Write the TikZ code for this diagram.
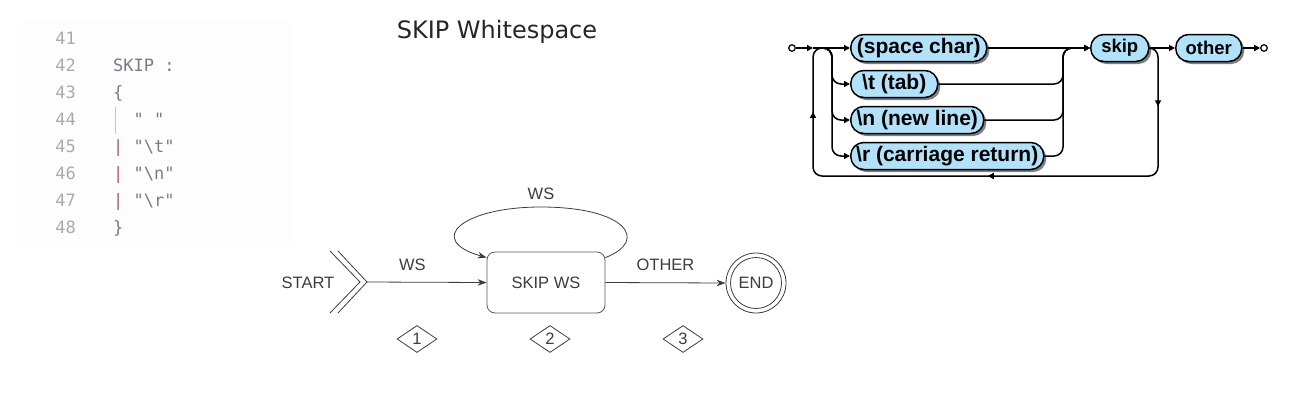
\documentclass[tikz,border=0pt]{standalone}
\usepackage{fontspec}
\setmainfont{Liberation Sans}
\newfontfamily\titlefont{DejaVu Sans}
\newfontfamily\codefont{DejaVu Sans Mono}
\usetikzlibrary{arrows.meta,shapes.geometric,shadows,decorations.markings}
\definecolor{rrblue}{RGB}{178,226,250}
\definecolor{lnum}{RGB}{168,170,180}
\definecolor{codegray}{RGB}{120,124,138}
\definecolor{barred}{RGB}{165,100,95}
\definecolor{fsm}{RGB}{60,60,60}
\definecolor{panel}{RGB}{253,253,253}
\begin{document}
\begin{tikzpicture}[x=1pt,y=-1pt,
  rrbox/.style={draw=black, line width=1.5pt, fill=rrblue, rounded corners=13pt,
    minimum height=27pt, inner sep=0pt, anchor=west,
    font=\fontsize{21}{24}\selectfont\bfseries,
    general shadow={fill=black!50, shadow xshift=2.5pt, shadow yshift=-2.5pt}},
  rrsmall/.style={font=\fontsize{18.5}{22}\selectfont\bfseries},
  rrend/.style={circle, draw=black, line width=1.2pt, fill=white, inner sep=0pt, minimum size=6.5pt},
  rrline/.style={line width=1.5pt, rounded corners=9pt},
  rrarrow/.style={rrline, -{Triangle[length=6pt,width=6pt]}},
  rrmark/.style={postaction={decorate, decoration={markings,
      mark=at position #1 with {\arrow{Triangle[length=6pt,width=6pt]}}}}},
  fsmtext/.style={text=fsm, font=\fontsize{16.5}{19}\selectfont},
  fsmline/.style={draw=fsm, line width=0.8pt},
  fsmarrow/.style={fsmline, -{Stealth[length=9pt,width=6.5pt]}},
  codetext/.style={anchor=base west, inner sep=0pt, text=codegray, font=\codefont\fontsize{17}{20}\selectfont},
  lnumtext/.style={anchor=base east, inner sep=0pt, text=lnum, font=\codefont\fontsize{17}{20}\selectfont},
  badge/.style={diamond, draw=fsm, line width=0.8pt, minimum width=40pt, minimum height=27pt, inner sep=0pt, fsmtext}
]
\useasboundingbox (0,0) rectangle (1300,400);

% ---------- code panel ----------
\fill[panel] (20,22) rectangle (290,245);
\node[lnumtext] (n41) at (76,44) {41};
\node[lnumtext] (n42) at (76,71) {42};
\node[lnumtext] (n43) at (76,98) {43};
\node[lnumtext] (n44) at (76,125) {44};
\node[lnumtext] (n45) at (76,152) {45};
\node[lnumtext] (n46) at (76,179) {46};
\node[lnumtext] (n47) at (76,206) {47};
\node[lnumtext] (n48) at (76,233) {48};
\node[codetext] (c42) at (113,71) {SKIP :};
\node[codetext] (c43) at (113,98) {\{};
\node[codetext] (c44) at (113,125) {\hphantom{||}" "};
\node[codetext] (c45) at (113,152) {{\color{barred}|} "\textbackslash t"};
\node[codetext] (c46) at (113,179) {{\color{barred}|} "\textbackslash n"};
\node[codetext] (c47) at (113,206) {{\color{barred}|} "\textbackslash r"};
\node[codetext] (c48) at (113,233) {\}};
\draw[black!22, line width=0.8pt] (115,107) -- (115,134);

% ---------- title ----------
\node[font=\titlefont\fontsize{24}{28}\selectfont, text=black!85] (title) at (497,32) {SKIP Whitespace};

% ---------- railroad diagram ----------
\node[rrend] (rs) at (792,48) {};
\node[rrbox, minimum width=136pt] (sp) at (850,48) {(space char)};
\node[rrbox, minimum width=87pt] (tab) at (850,84) {\textbackslash t (tab)};
\node[rrbox, minimum width=133pt] (nl) at (850,120) {\textbackslash n (new line)};
\node[rrbox, minimum width=193pt] (cr) at (850,156) {\textbackslash r (carriage return)};
\node[rrbox, rrsmall, minimum width=58pt] (skip) at (1090,48) {skip};
\node[rrbox, rrsmall, minimum width=66pt] (oth) at (1175,48) {other};
\node[rrend] (re) at (1264,48) {};

\coordinate (jL) at (813,48);
\coordinate (jB) at (832,48);
\coordinate (jR) at (1063,48);
\coordinate (jS) at (1158,48);
\coordinate (bot) at (990,176);

\draw[rrarrow] (rs) -- (jL);
\draw[rrarrow] (jL) -- (sp.west);
\draw[rrarrow] (jL) -| (jB |- tab.west) -- (tab.west);
\draw[rrarrow] (jL) -| (jB |- nl.west) -- (nl.west);
\draw[rrarrow] (jL) -| (jB |- cr.west) -- (cr.west);
\draw[rrarrow] (sp.east) -- (skip.west);
\draw[rrarrow] (tab.east) -| (jR) -- (skip.west);
\draw[rrarrow] (nl.east) -| (jR) -- (skip.west);
\draw[rrarrow] (cr.east) -| (jR) -- (skip.west);
\draw[rrarrow] (skip.east) -- (oth.west);
\draw[rrarrow] (oth.east) -- (re);
\draw[rrline, rrmark=64pt, rrmark=300pt, rrmark=535pt]
  (skip.east) -| (bot -| jS) -| (jL) -- (jB);

% ---------- state machine ----------
\node[fsmtext] (start) at (308,283) {START};
\coordinate (st) at (367,282);
\coordinate (chA) at (330,251);
\coordinate (chB) at (330,313);
\coordinate (chC) at (338,251);
\coordinate (chD) at (338,313);
\draw[fsmline] (chA) -- (360,282) -- (chB);
\draw[fsmline] (chC) -- (st) -- (chD);

\node[draw=fsm!85, line width=0.8pt, rounded corners=8pt, minimum width=118pt, minimum height=61pt, fsmtext] (sk) at (546,282.5) {SKIP WS};
\node[circle, draw=fsm, line width=0.8pt, minimum size=60pt, inner sep=0pt] (end) at (756,283) {};
\node[circle, draw=fsm, line width=0.8pt, minimum size=51pt, inner sep=0pt, fsmtext] (endin) at (end) {END};

\draw[fsmarrow] (st) -- node[fsmtext, pos=0.38, above=8pt] (lws) {WS} (sk.west);
\draw[fsmarrow] (sk.east) -- node[fsmtext, midway, above=8pt] (loth) {OTHER} (end.west);
\draw[fsmarrow] ([yshift=-6pt]sk.north east) .. controls (650,240) and (625,207) .. (541,207)
  node[fsmtext, above=4pt] (lloop) {WS}
  .. controls (462,207) and (425,240) .. ([yshift=-6pt]sk.north west);

\node[badge] (d1) at (417,339) {1};
\node[badge] (d2) at (550,339) {2};
\node[badge] (d3) at (683,339) {3};
\end{tikzpicture}
\end{document}
